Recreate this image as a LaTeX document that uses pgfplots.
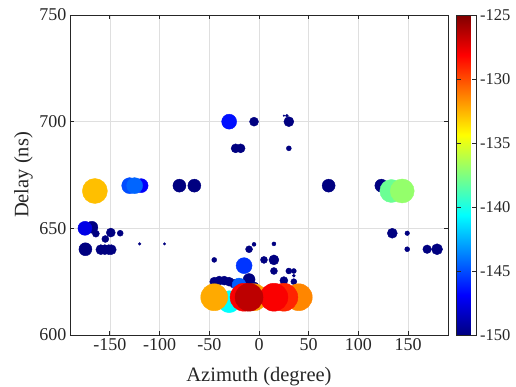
\documentclass[border=0pt]{standalone}
\usepackage{pgfplots}
\pgfplotsset{compat=1.18}
\usepackage{pgfplotstable}
\usepackage{fontspec}
\setmainfont{Liberation Serif}
\definecolor{axc}{HTML}{262626}
\definecolor{gridc}{HTML}{DFDFDF}
\pgfplotsset{/pgf/number format/assume math mode=true}
\pgfplotstableread{
x y c r
-5 700 -150 4.5
30 700 -150 5
28 702.8 -150 1.5
25 702.8 -150 0.8
-23.5 687.5 -150 4.5
-18.5 687.5 -150 4.5
30 687.5 -150 2.5
-80 670 -150 6.5
-65 670 -150 6.5
70 670 -150 6.5
123 670 -150 6.5
-168 650.5 -150 6
-164 647.5 -150 3.5
-149 648 -150 4.5
-154.5 645 -150 3.5
-139.5 647.7 -150 3
-174.5 640.2 -150 6.5
-159 640 -150 5
-155 640 -150 5
-151 640 -150 5
-148.5 640 -150 5
-120 642.7 -150 1.4
-95 642.7 -150 1.2
134 647.7 -150 5
149 647.7 -150 2.3
149 640.2 -150 2.5
169 640.2 -150 4.3
179 640.2 -150 5.5
-10 640.2 -150 3.5
-5 642.5 -150 2
-45 635.2 -150 2.5
15 642.7 -150 2
5 635.2 -150 3.5
15 635.2 -150 5
15 630 -150 3.5
30 630 -150 3
35 630 -150 2.5
35 627.8 -150 1.5
35 625 -150 3
25 625.5 -150 4
-45 625 -150 4.5
-40 625.5 -150 4.5
-35 625.5 -150 4.5
-30 625 -150 4.5
-25 624 -150 4.5
-10 626 -150 6
-5 622.6 -150 5
-175 650 -147.5 7
-118.5 670 -147 7
-30 700 -146.5 7.5
-15 632.5 -145.6 8
-130 670 -145 8
-20 623.4 -144.6 7
-125 670 -144.4 8
-30 615.6 -140.6 11
133 667.5 -138 11.5
144 667.5 -137 12
-165 667.5 -132.8 12.5
-45 617.7 -132.3 13.5
-5 617.7 -132 13.5
40 617.7 -131.4 13.5
25 617.7 -129 14
15 617.7 -128 14
-15 617.7 -128 14
-10 617.7 -126.5 14
}\pts
\begin{document}
\begin{tikzpicture}
\begin{axis}[
  name=main,
  scale only axis,
  width=378pt, height=320pt,
  xmin=-190, xmax=190, ymin=600, ymax=750,
  xtick={-150,-100,...,150}, ytick={600,650,700,750},
  grid=major,
  major grid style={color=gridc, line width=0.5pt},
  axis line style={color=axc, line width=0.6pt},
  tick style={color=axc, line width=0.6pt},
  tick align=inside,
  major tick length=4pt,
  ticklabel style={font=\fontsize{18}{18}\selectfont, text=axc},
  label style={font=\fontsize{20.5}{22}\selectfont, text=axc},
  xlabel={Azimuth (degree)},
  ylabel={Delay (ns)},
  x label style={at={(axis description cs:0.5,-0.146)}, anchor=base},
  y label style={at={(axis description cs:-0.110,0.5)}, anchor=base},
  colormap/jet,
  point meta min=-150, point meta max=-125,
  colorbar,
  colorbar style={
    scale only axis,
    width=20pt,
    height=320pt,
    at={(parent axis.north east)}, anchor=north west, xshift=0pt,
    ytick={-150,-145,...,-125},
    axis line style={color=axc, line width=0.6pt},
    tick style={color=axc},
    yticklabel style={font=\fontsize{16.5}{16.5}\selectfont, text=axc},
  },
]
\addplot[scatter, only marks, mark=*, scatter src=explicit,
  scatter/use mapped color={draw=mapped color, fill=mapped color},
  visualization depends on={\thisrow{r} \as \rad},
  scatter/@pre marker code/.append style={/tikz/mark size=\rad}]
  table[x=x, y=y, meta=c] {\pts};
\end{axis}
\pgfresetboundingbox
\path ([shift={(-70pt,-52pt)}]main.south west) rectangle ([shift={(446pt,335pt)}]main.south west);
\end{tikzpicture}
\end{document}
